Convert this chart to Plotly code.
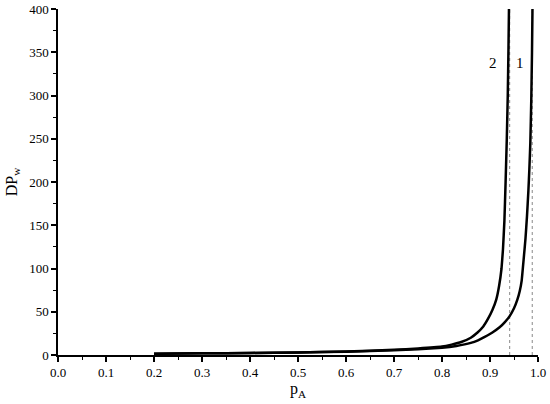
import plotly.graph_objects as go

# curve 1 (gel point near 0.99)
p_1 = [0.2, 0.3, 0.4, 0.5, 0.6, 0.7, 0.75, 0.8, 0.83, 0.86, 0.875, 0.889, 0.905, 0.92,
       0.931, 0.941, 0.95, 0.957, 0.962, 0.966, 0.970, 0.974, 0.977, 0.980, 0.982,
       0.984, 0.986, 0.9875, 0.9885]
dp_1 = [1.5, 1.9, 2.3, 2.9, 3.8, 5.4, 6.6, 8.4, 10.5, 14, 17, 21, 26, 32,
        38, 45, 54, 64, 74, 86, 110, 135, 160, 190, 215, 245, 295, 350, 400]

# curve 2 (gel point near 0.94)
p_2 = [0.2, 0.3, 0.4, 0.5, 0.6, 0.7, 0.75, 0.8, 0.82, 0.84, 0.86, 0.874, 0.886,
       0.896, 0.905, 0.913, 0.919, 0.924, 0.927, 0.930, 0.9325, 0.935, 0.937,
       0.9385, 0.9395]
dp_2 = [1.5, 1.9, 2.4, 3.0, 4.0, 6.0, 7.6, 9.8, 12, 15, 20, 26, 33,
        42, 52, 64, 80, 100, 122, 155, 200, 250, 300, 355, 400]

# dotted asymptotes
gel_points = [0.941, 0.988]
dp_span = [0, 400]

serif = "Liberation Serif"

fig = go.Figure()

for gp in gel_points:
    fig.add_trace(go.Scatter(
        x=[gp, gp], y=dp_span, mode="lines",
        line=dict(color="#888888", width=1, dash="dot"),
        showlegend=False, hoverinfo="skip"
    ))

for px_, dp_ in [(p_1, dp_1), (p_2, dp_2)]:
    fig.add_trace(go.Scatter(
        x=px_, y=dp_, mode="lines",
        line=dict(color="black", width=2.5, shape="spline", smoothing=0.3),
        showlegend=False
    ))

fig.add_annotation(x=0.907, y=338, text="2", showarrow=False,
                   font=dict(family=serif, size=15, color="black"))
fig.add_annotation(x=0.963, y=338, text="1", showarrow=False,
                   font=dict(family=serif, size=15, color="black"))

axis_common = dict(
    showgrid=False, zeroline=False, showline=True, linecolor="black",
    linewidth=1.5, ticks="outside", ticklen=5, tickwidth=1.5,
    tickcolor="black", tickfont=dict(family=serif, size=13, color="black"),
    automargin=False,
)

fig.update_xaxes(
    range=[0, 1], dtick=0.1, tickformat=".1f",
    minor=dict(ticks="outside", ticklen=3, tickwidth=1.2, dtick=0.05, tickcolor="black"),
    title=dict(text="p<sub>A</sub>", font=dict(family=serif, size=16, color="black"), standoff=0),
    **axis_common
)
fig.update_yaxes(
    range=[0, 400], dtick=50,
    minor=dict(ticks="outside", ticklen=3, tickwidth=1.2, dtick=25, tickcolor="black"),
    title=dict(text="DP<sub>w</sub>", font=dict(family=serif, size=16, color="black"), standoff=8),
    **axis_common
)

fig.update_layout(
    width=550, height=404,
    margin=dict(l=58, r=12, t=9, b=49),
    plot_bgcolor="white", paper_bgcolor="white",
    font=dict(family=serif),
)

fig.write_html("out.html", config={"displayModeBar": False},
               post_script="document.body.style.margin='0';")
